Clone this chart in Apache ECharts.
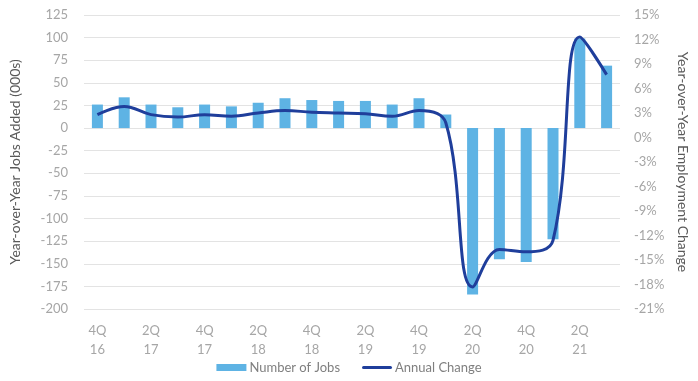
<!DOCTYPE html>
<html>
<head>
<meta charset="utf-8">
<script src="https://cdn.jsdelivr.net/npm/echarts@6/dist/echarts.min.js"></script>
<style>
 html, body { margin: 0; padding: 0; background: #fff; }
 #chart { width: 698px; height: 381px; }
</style>
</head>
<body>
<div id="chart"></div>
<script>
// quarters from 4Q16 to 3Q21
var quarters = ['4Q\n16', '1Q\n17', '2Q\n17', '3Q\n17', '4Q\n17', '1Q\n18', '2Q\n18', '3Q\n18', '4Q\n18', '1Q\n19',
 '2Q\n19', '3Q\n19', '4Q\n19', '1Q\n20', '2Q\n20', '3Q\n20', '4Q\n20', '1Q\n21', '2Q\n21', '3Q\n21'];
// jobs added year over year, thousands
var jobsAdded = [26, 34, 26, 23, 26, 24, 28, 33, 31, 30, 30, 26, 33, 15, -184, -145, -148, -123, 99, 69];
// annual employment change, percent
var annualChange = [2.8, 3.8, 2.8, 2.5, 2.8, 2.6, 3.0, 3.3, 3.1, 3.0, 2.9, 2.6, 3.3, 1.8, -18.3, -13.7, -14.0, -12.6, 12.3, 7.7];

var font = 'Lato';
var myChart = echarts.init(document.getElementById('chart'));

var option = {
    animation: false,
    textStyle: { fontFamily: font },
    grid: { left: 78, right: 76, top: 15, bottom: 72 },
    legend: {
        bottom: 2,
        left: 'center',
        itemGap: 22,
        itemWidth: 30,
        itemHeight: 7,
        textStyle: { color: '#7f7f7f', fontSize: 13, fontFamily: font, padding: [0, 0, 0, -2] },
        data: [
            { name: 'Number of Jobs', icon: 'rect' },
            { name: 'Annual Change', icon: 'path://M1.5,0 L28.5,0 A1.5,1.5 0 0 1 28.5,3 L1.5,3 A1.5,1.5 0 0 1 1.5,0 Z' }
        ]
    },
    xAxis: {
        type: 'category',
        data: quarters,
        axisLine: { show: false },
        axisTick: { show: false },
        axisLabel: {
            color: '#a6a6a6',
            fontSize: 13,
            lineHeight: 19,
            margin: 12,
            interval: function (i) { return i % 2 === 0; }
        }
    },
    yAxis: [{
        type: 'value',
        min: -200,
        max: 125,
        interval: 25,
        name: 'Year-over-Year Jobs Added (000s)',
        nameLocation: 'middle',
        nameGap: 62,
        nameTextStyle: { color: '#595959', fontSize: 14, fontFamily: font },
        axisLine: { show: false },
        axisTick: { show: false },
        axisLabel: { color: '#a6a6a6', fontSize: 13, margin: 16 },
        splitLine: { lineStyle: { color: '#e3e3e3', width: 1 } }
    }, {
        type: 'value',
        min: -21,
        max: 15,
        interval: 3,
        name: 'Year-over-Year Employment Change',
        nameLocation: 'middle',
        nameGap: 56,
        nameRotate: -90,
        nameTextStyle: { color: '#595959', fontSize: 14, fontFamily: font },
        axisLine: { show: false },
        axisTick: { show: false },
        axisLabel: { color: '#a6a6a6', fontSize: 13, margin: 14, formatter: '{value}%' },
        splitLine: { show: false }
    }],
    series: [{
        name: 'Number of Jobs',
        type: 'bar',
        data: jobsAdded,
        barWidth: 11,
        itemStyle: { color: '#5eb3e4' }
    }, {
        name: 'Annual Change',
        type: 'line',
        yAxisIndex: 1,
        data: annualChange,
        smooth: 0.4,
        symbol: 'none',
        lineStyle: { color: '#1f3e9b', width: 3 },
        itemStyle: { color: '#1f3e9b' }
    }]
};

myChart.setOption(option);
</script>
</body>
</html>
